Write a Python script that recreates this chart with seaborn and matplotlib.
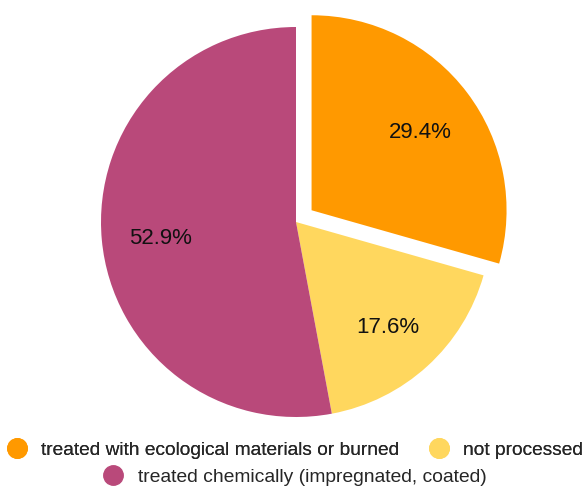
import matplotlib
matplotlib.use("Agg")
import matplotlib.pyplot as plt
import matplotlib.transforms as mtransforms
import seaborn as sns
from matplotlib.lines import Line2D

categories = ["treated with ecological materials or burned", "not processed",
              "treated chemically (impregnated, coated)"]
values = [5, 3, 9]
colors = ["#FF9900", "#FFD75E", "#B9497A"]
explode = [0.1, 0, 0]

sns.set_theme(style="white")
plt.rcParams['font.family'] = ['Liberation Sans', 'DejaVu Sans']

W, H = 585, 487
fig = plt.figure(figsize=(W / 100, H / 100), dpi=100)
cx, cy, r = 296, 265, 195
half = 230
ax = fig.add_axes([(cx - half) / W, (cy - half) / H, 2 * half / W, 2 * half / H])
wedges, texts, autotexts = ax.pie(values, colors=colors, explode=explode, startangle=90,
                                  counterclock=False, autopct="%.1f%%", pctdistance=0.7,
                                  textprops=dict(fontsize=16, color="#111111"),
                                  wedgeprops=dict(linewidth=0))
for t in autotexts:
    t.set_transform(mtransforms.offset_copy(ax.transData, fig=fig, x=0, y=-3, units="points"))
lim = half / r
ax.set_xlim(-lim, lim)
ax.set_ylim(-lim, lim)
ax.set_aspect("equal")
ax.axis("off")

handles = [Line2D([], [], marker="o", linestyle="", markersize=14,
                  markerfacecolor=c, markeredgecolor=c) for c in colors]
leg1 = fig.legend(handles[:2], categories[:2], ncol=2, loc="center",
                  bbox_to_anchor=(295 / W, 1 - 450 / H), frameon=False,
                  fontsize=13.75, handletextpad=0.75, columnspacing=1.6,
                  handlelength=1.0, borderpad=0)
fig.add_artist(leg1)
leg2 = fig.legend(handles[2:], categories[2:], ncol=1, loc="center",
                  bbox_to_anchor=(295 / W, 1 - 477 / H), frameon=False,
                  fontsize=13.9, handletextpad=0.75, handlelength=1.0, borderpad=0)

fig.savefig("out.png", dpi=100)
